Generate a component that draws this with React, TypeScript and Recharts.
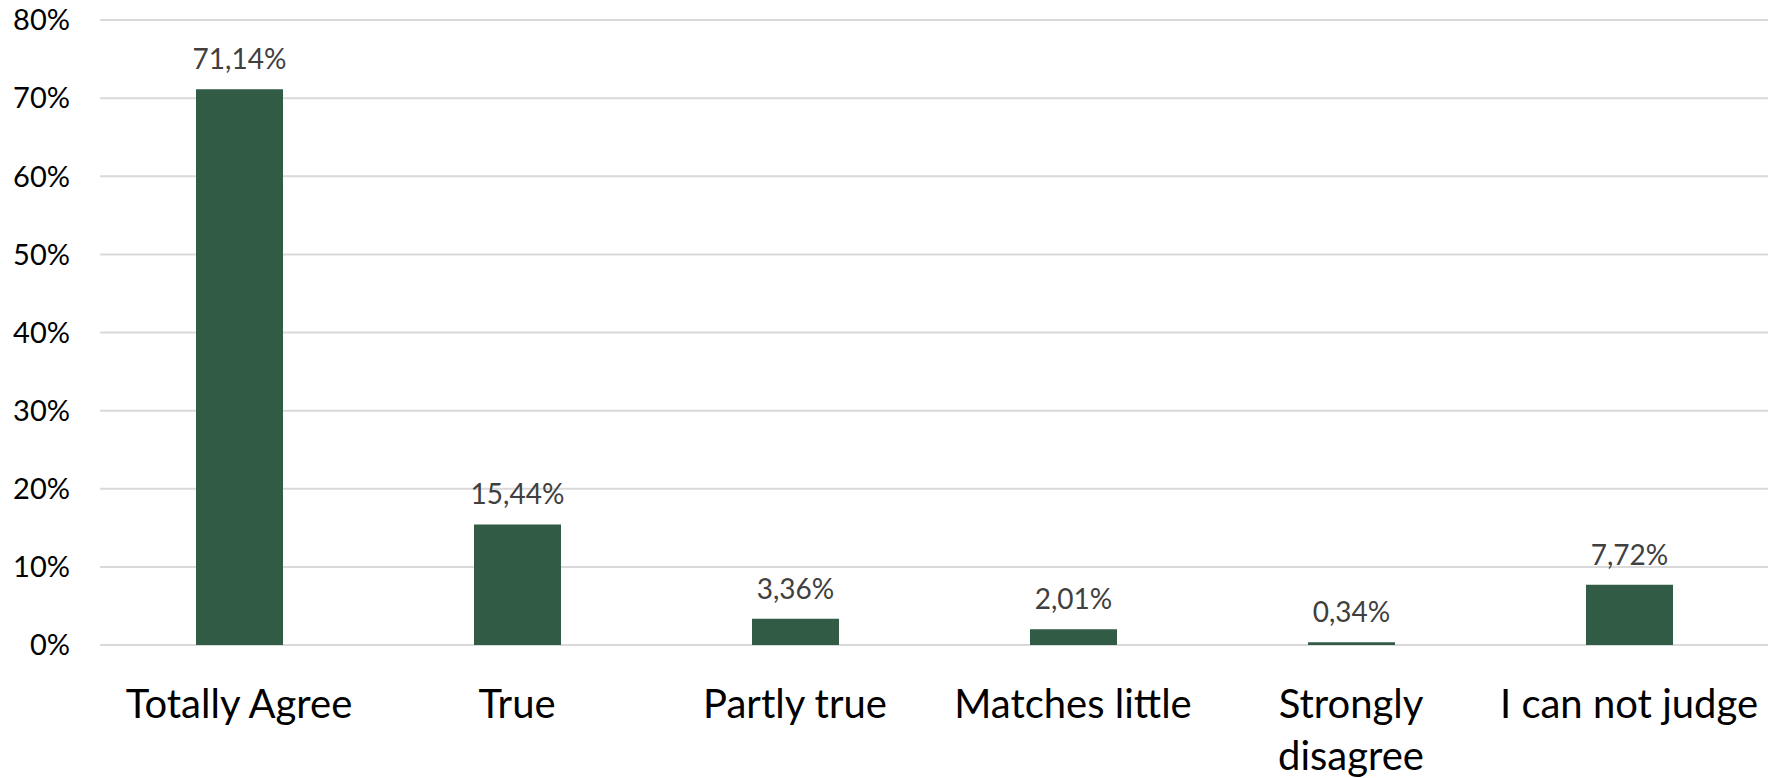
import React from "react";
import { BarChart, Bar, XAxis, YAxis, CartesianGrid, LabelList } from "recharts";

const categories = [
  "Totally Agree",
  "True",
  "Partly true",
  "Matches little",
  "Strongly disagree",
  "I can not judge",
];
const shares = [71.14, 15.44, 3.36, 2.01, 0.34, 7.72];
const yTicks = [0, 10, 20, 30, 40, 50, 60, 70, 80];

const data = categories.map((name, i) => ({ name, value: shares[i] }));

const FONT = "Lato, 'Noto Sans', sans-serif";

// greedy word wrap, measured with a canvas
let ctx: CanvasRenderingContext2D | null = null;
const wrap = (label: string, font: string, maxW: number) => {
  if (!ctx) ctx = document.createElement("canvas").getContext("2d");
  if (!ctx) return [label];
  ctx.font = font;
  const lines: string[] = [];
  let cur = "";
  label.split(" ").forEach((w) => {
    const t = cur ? cur + " " + w : w;
    if (cur && ctx!.measureText(t).width > maxW) {
      lines.push(cur);
      cur = w;
    } else cur = t;
  });
  if (cur) lines.push(cur);
  return lines;
};

const XTick = (props: any) => {
  const { x, y, payload } = props;
  const lines = wrap(payload.value, "40px Lato", 268);
  return (
    <text
      x={x}
      y={y}
      textAnchor="middle"
      fill="#000"
      style={{ fontFamily: FONT, fontSize: 40 }}
    >
      {lines.map((l, i) => (
        <tspan key={i} x={x} dy={i === 0 ? "0.71em" : "1.3em"}>
          {l}
        </tspan>
      ))}
    </text>
  );
};

const fmt = (v: any) => Number(v).toFixed(2).replace(".", ",") + "%";

export default function App() {
  return (
    <div style={{ position: "absolute", left: 0, top: 0, background: "#fff" }}>
      <BarChart
        width={1782}
        height={778}
        data={data}
        margin={{ top: 20, right: 14, left: 0, bottom: 0 }}
      >
        <CartesianGrid vertical={false} stroke="#d9d9d9" strokeWidth={2} />
        <XAxis
          dataKey="name"
          axisLine={false}
          tickLine={false}
          height={133}
          tickMargin={39}
          interval={0}
          tick={<XTick />}
        />
        <YAxis
          width={100}
          domain={[0, 80]}
          ticks={yTicks}
          axisLine={false}
          tickLine={false}
          tickMargin={24}
          tickFormatter={(v: number) => v + "%"}
          tick={{ fill: "#000", fontSize: 29, fontFamily: FONT }}
        />
        <Bar dataKey="value" fill="#315b45" barSize={87} isAnimationActive={false}>
          <LabelList
            dataKey="value"
            position="top"
            offset={20}
            formatter={fmt}
            fill="#404040"
            style={{ fontSize: 28, fontFamily: FONT }}
          />
        </Bar>
      </BarChart>
    </div>
  );
}
